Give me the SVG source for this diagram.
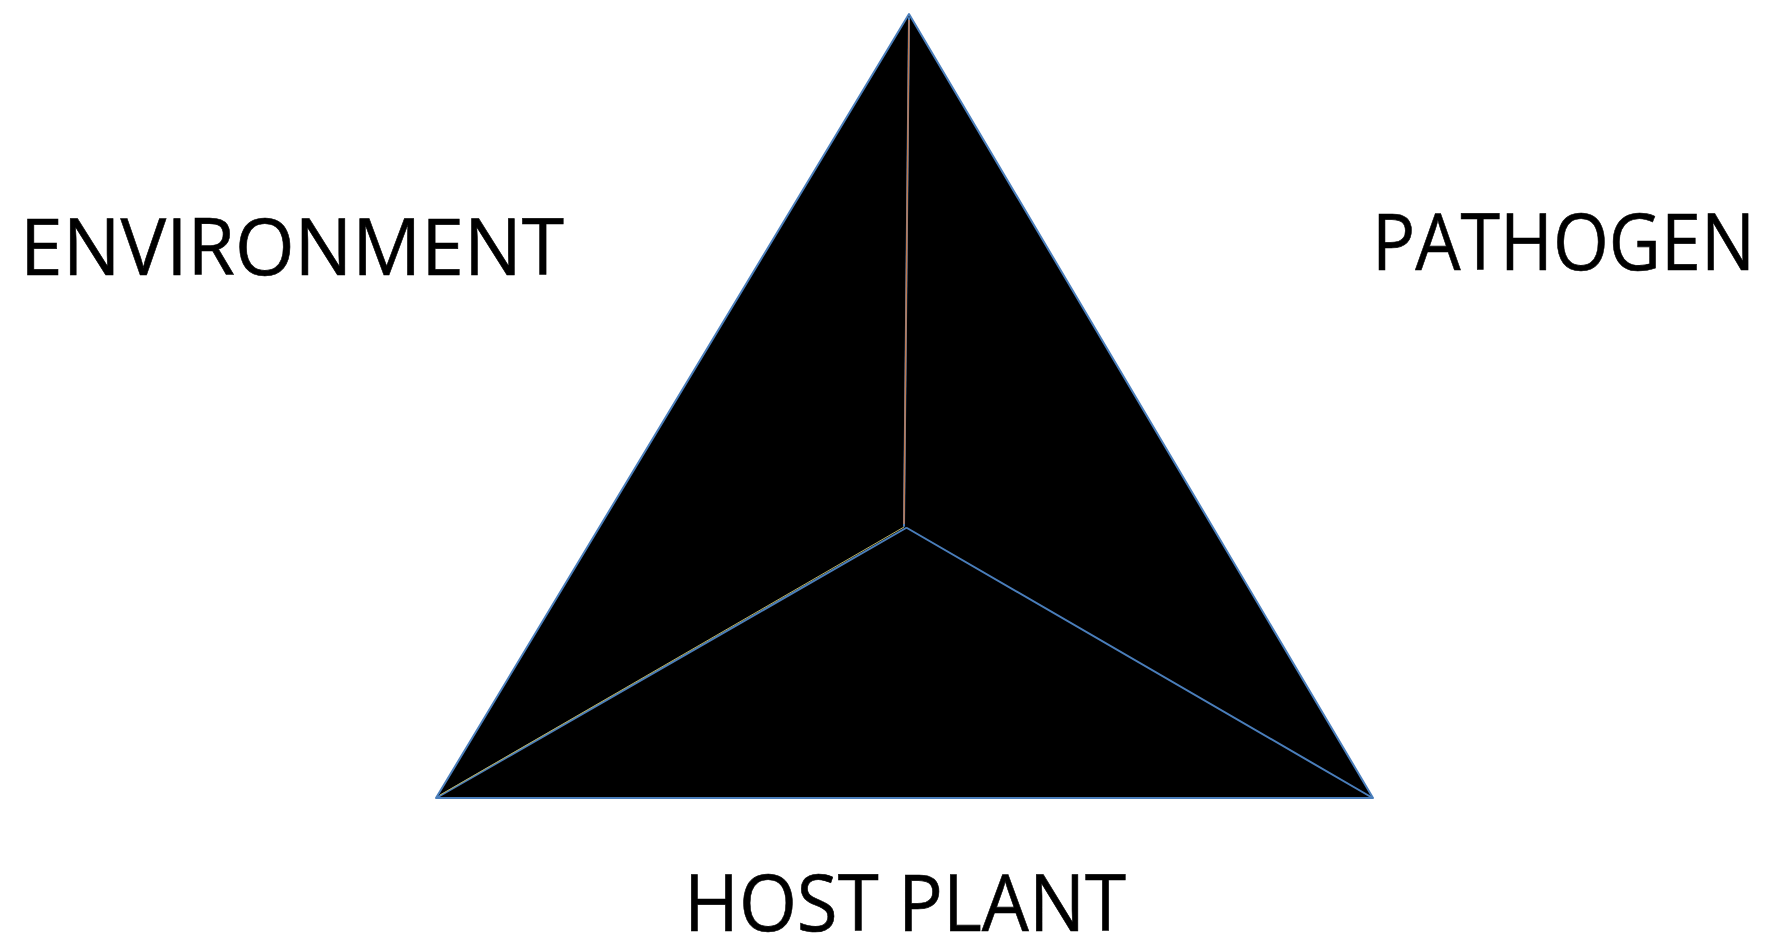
<svg xmlns="http://www.w3.org/2000/svg" width="1768" height="937" viewBox="0 0 1768 937">
<style>
.lbl{font-family:"Open Sans","Liberation Sans",sans-serif;font-size:78px;font-weight:500;fill:#000;stroke:#000;stroke-width:0.6}
.edge{stroke:#4a7ebb;stroke-width:2;fill:none;stroke-linecap:round}
</style>
<rect width="1768" height="937" fill="#fff"/>
<g id="pyramid">
<polygon points="909,14 1373,798 436,798" fill="#000" stroke="#4a7ebb" stroke-width="2" stroke-linejoin="round"/>
</g>
<g id="connectors">
<line class="edge" x1="909" y1="18" x2="904" y2="526" stroke-width="5"/>
<line x1="909" y1="20" x2="904" y2="524" stroke="#c07a50" stroke-width="1.5"/>
<line class="edge" x1="906" y1="528" x2="438" y2="797" stroke-width="4"/>
<line x1="904" y1="527" x2="440" y2="795" stroke="#b8b060" stroke-width="1"/>
<line class="edge" x1="907" y1="528" x2="1371" y2="797"/>
</g>
<g id="environment"><text class="lbl" x="20" y="275" textLength="544" lengthAdjust="spacingAndGlyphs">ENVIRONMENT</text></g>
<g id="pathogen"><text class="lbl" x="1372" y="270" textLength="383" lengthAdjust="spacingAndGlyphs">PATHOGEN</text></g>
<g id="host-plant"><text class="lbl" x="684" y="931" textLength="442" lengthAdjust="spacingAndGlyphs">HOST PLANT</text></g>
</svg>
